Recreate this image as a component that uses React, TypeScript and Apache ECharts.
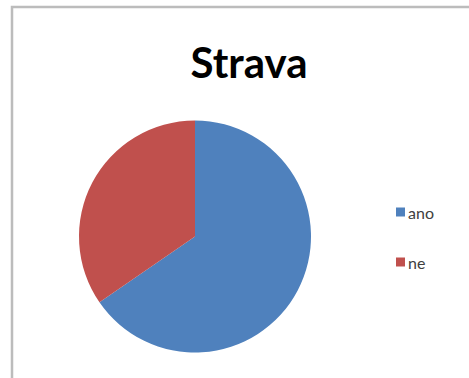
import React, { useEffect, useRef } from "react";
import * as echarts from "echarts";

const categories = ["ano", "ne"];
const values = [65.4, 34.6];
const colors = ["#4F81BD", "#C0504D"];
const titleText = "Strava";

export default function App() {
  const ref = useRef<HTMLDivElement>(null);
  useEffect(() => {
    if (!ref.current) return;
    const chart = echarts.init(ref.current, null, { renderer: "svg" });
    chart.setOption({
      animation: false,
      backgroundColor: "#ffffff",
      title: {
        text: titleText,
        left: 244,
        textAlign: "center",
        top: 36,
        textStyle: {
          fontFamily: "Lato",
          fontWeight: "bold",
          fontSize: 42,
          color: "#000000",
        },
      },
      graphic: [
        {
          type: "rect",
          shape: { x: 12, y: 7, width: 520, height: 420 },
          style: { fill: "none", stroke: "#bcbcbc", lineWidth: 2.5 },
          silent: true,
        },
      ],
      legend: {
        orient: "vertical",
        left: 391,
        top: 199,
        itemWidth: 9,
        itemHeight: 9,
        itemGap: 34,
        icon: "rect",
        textStyle: {
          fontFamily: "Lato",
          fontSize: 16,
          color: "#404040",
          padding: [0, 0, 0, -2],
          lineHeight: 16,
        },
        data: categories,
      },
      series: [
        {
          type: "pie",
          center: [195, 236.5],
          radius: 116,
          startAngle: 90,
          clockwise: true,
          label: { show: false },
          labelLine: { show: false },
          emphasis: { disabled: true },
          itemStyle: { borderWidth: 0 },
          data: categories.map((c, i) => ({
            name: c,
            value: values[i],
            itemStyle: { color: colors[i] },
          })),
        },
      ],
    });
    return () => chart.dispose();
  }, []);
  return (
    <div
      ref={ref}
      style={{ position: "fixed", left: 0, top: 0, width: 469, height: 378 }}
    />
  );
}
